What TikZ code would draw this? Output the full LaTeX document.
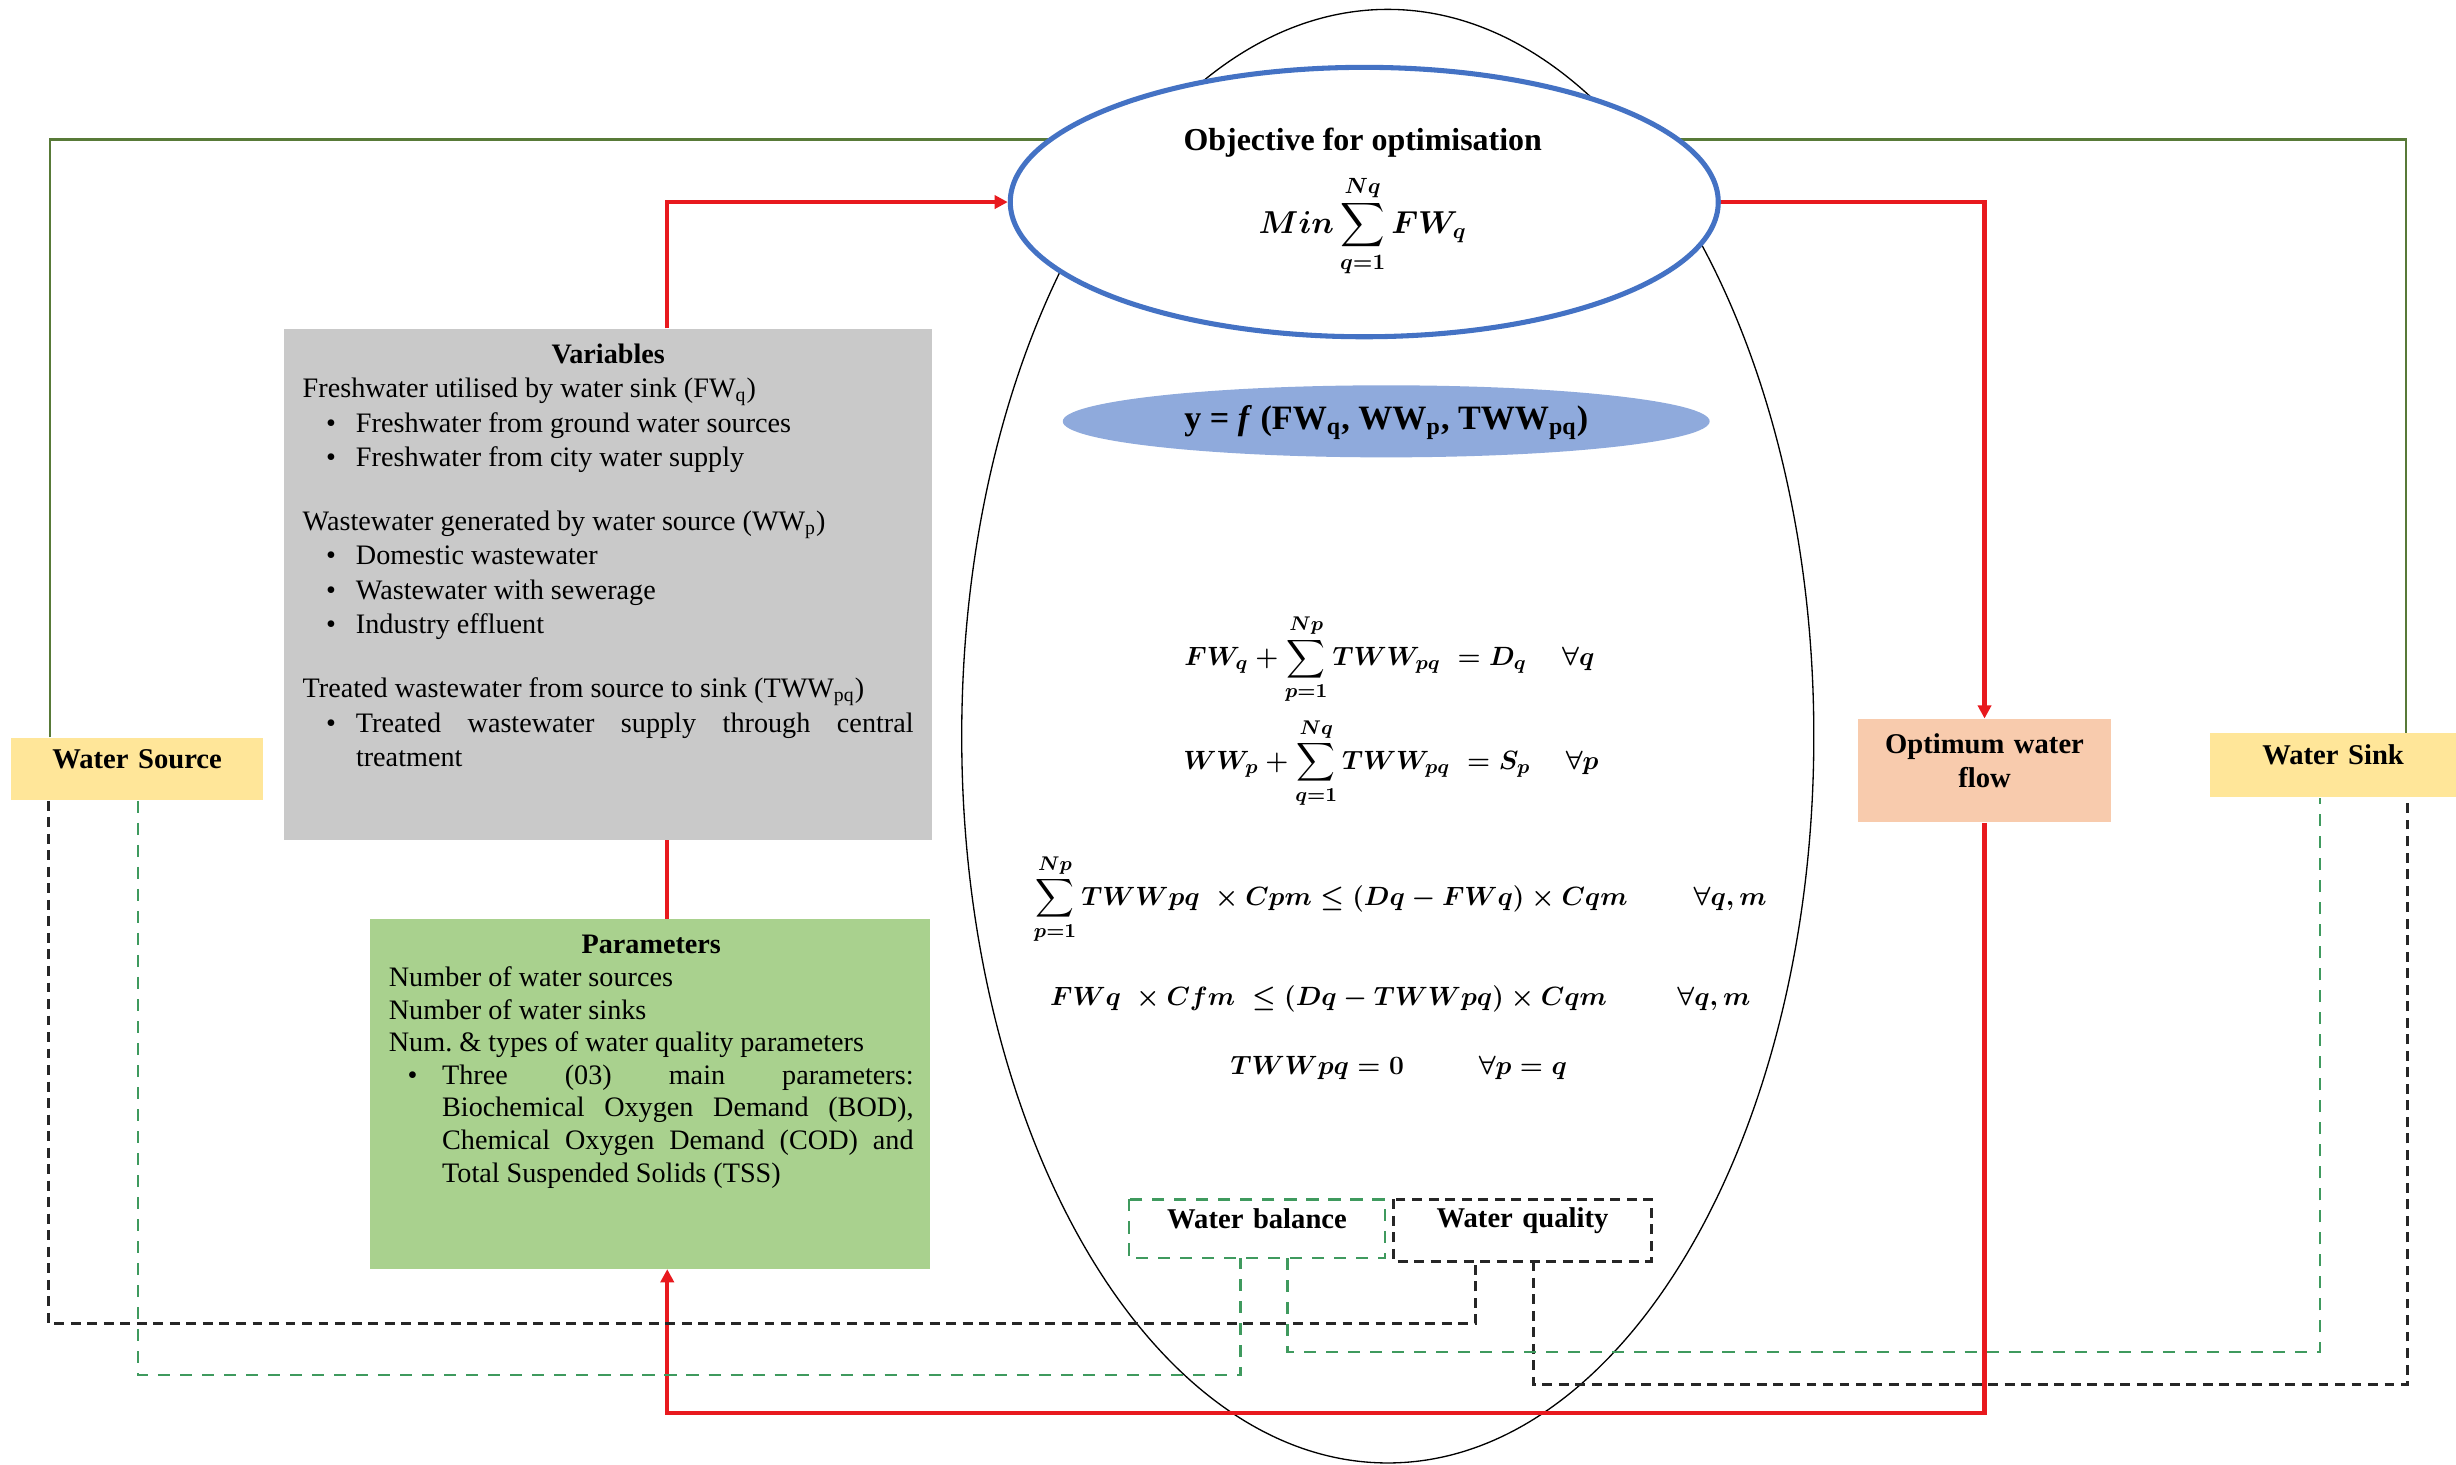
\documentclass[tikz,border=0pt]{standalone}
\usepackage{amsmath,amssymb}
\usepackage{fontspec}
\setmainfont{Liberation Serif}
\usetikzlibrary{arrows.meta,calc,shapes.geometric,fit}

\definecolor{srcyellow}{HTML}{FFE699}
\definecolor{optorange}{HTML}{F8CBAD}
\definecolor{vargrey}{HTML}{C9C9C9}
\definecolor{pargreen}{HTML}{A9D18E}
\definecolor{objblue}{HTML}{4472C4}
\definecolor{fnblue}{HTML}{8FAADC}
\definecolor{linkgreen}{HTML}{587A38}
\definecolor{dashgreen}{HTML}{3F9A5E}
\definecolor{flowred}{HTML}{E8191E}

\pgfdeclarelayer{back}
\pgfdeclarelayer{wires}
\pgfsetlayers{back,wires,main}

\newcommand{\vitem}[1]{\noindent\hspace*{3.75mm}\makebox[4.75mm][l]{\textbullet}\parbox[t]{89mm}{\rightskip=0pt\parfillskip=0pt plus 1fil #1}\par}
\newcommand{\eqfont}{\fontsize{12.2}{15}\selectfont\boldmath}

\begin{document}
\begin{tikzpicture}[x=0.25mm, y=-0.25mm,
  box/.style={inner sep=0pt, draw=none},
  tag/.style={font=\fontsize{13}{15.5}\selectfont\bfseries, align=center},
  body/.style={anchor=base west, inner sep=0pt, align=justify, font=\fontsize{12.8}{15.6}\selectfont},
  eqn/.style={anchor=base, inner sep=0pt, font=\eqfont},
  flow/.style={draw=flowred, line width=2pt},
  flowtip/.style={flow, -{Triangle[length=6pt,width=6pt]}},
  link/.style={draw=linkgreen, line width=1.1pt},
  bdash/.style={draw=black!85, line width=1.4pt, dash pattern=on 4.5pt off 3pt},
  gdash/.style={draw=dashgreen, line width=1.1pt, dash pattern=on 5.5pt off 4.5pt}
]
\useasboundingbox (0,0) rectangle (1568,935);

% ---------- background and model region ----------
\begin{pgfonlayer}{back}
  \fill[white] (0,0) rectangle (1568,935);
  \node[ellipse, draw, line width=0.6pt, minimum width=136mm, minimum height=232mm, inner sep=0pt] (region) at (886,470) {};
\end{pgfonlayer}

% ---------- objective and function ----------
\node[ellipse, draw=objblue, fill=white, line width=2.3pt, minimum width=113mm, minimum height=43mm, inner sep=0pt] (obj) at (871,129) {};
\node[font=\fontsize{14.5}{17}\selectfont\bfseries, inner sep=0pt] (objtitle) at (870,91) {Objective for optimisation};
\node[eqn, font=\fontsize{14}{17}\selectfont\boldmath] (objmin) at (870,149) {$\displaystyle Min\sum_{q=1}^{Nq} FW_q$};

\node[ellipse, fill=fnblue, minimum width=103.25mm, minimum height=11.5mm, inner sep=0pt] (fn) at (885,269) {};
\node[font=\fontsize{15.5}{17}\selectfont\bfseries, inner sep=0pt] (fntext) at (885,270)
  {y = \textit{f} (FW\textsubscript{q}, WW\textsubscript{p}, TWW\textsubscript{pq})};

% ---------- constraints ----------
\node[eqn] (balq) at (887,425) {$\displaystyle FW_q+\sum_{p=1}^{Np} TWW_{pq}\;= D_q\quad\;\forall q$};
\node[eqn] (balp) at (888,491) {$\displaystyle WW_p+\sum_{q=1}^{Nq} TWW_{pq}\;= S_p\quad\;\forall p$};
\node[eqn] (qualq) at (894,578) {$\displaystyle \sum_{p=1}^{Np} TWWpq\;\times Cpm\le(Dq-FWq)\times Cqm\hspace{30pt}\forall q,m$};
\node[eqn] (qualf) at (894,642) {$FWq\;\times Cfm\;\le(Dq-TWWpq)\times Cqm\hspace{32pt}\forall q,m$};
\node[eqn] (self) at (893,686) {$TWWpq=0\hspace{34pt}\forall p=q$};

\node[fit={(721,766) (884,803)}, box, tag] (wbal) {Water balance};
\node[fit={(890,766) (1054,805)}, box, tag] (wqual) {Water quality};

% ---------- side boxes ----------
\node[fit={(7,471) (168,511)}, box, fill=srcyellow, tag] (src) {Water Source};
\node[fit={(1411,468) (1568,509)}, box, fill=srcyellow, tag] (sink) {Water Sink};
\node[fit={(1186,459) (1348,525)}, box, fill=optorange, tag] (opt) {Optimum water\\flow};

\node[fit={(181,210) (595,536)}, box, fill=vargrey] (vars) {};
\node[body, text width=97.5mm] (varstext) at (193,232) {%
\makebox[\linewidth]{\textbf{Variables}}\par
Freshwater utilised by water sink (FW\textsubscript{q})\par
\vitem{Freshwater from ground water sources}
\vitem{Freshwater from city water supply}
\vspace{13.5pt}
Wastewater generated by water source (WW\textsubscript{p})\par
\vitem{Domestic wastewater}
\vitem{Wastewater with sewerage}
\vitem{Industry effluent}
\vspace{13.5pt}
Treated wastewater from source to sink (TWW\textsubscript{pq})\par
\vitem{Treated wastewater supply through central\linebreak treatment}
};

\node[fit={(236,587) (594,810)}, box, fill=pargreen] (params) {};
\node[body, text width=83.75mm, font=\fontsize{12.8}{14.8}\selectfont] (paramstext) at (248,609) {%
\makebox[\linewidth]{\textbf{Parameters}}\par
Number of water sources\par
Number of water sinks\par
Num.\ \& types of water quality parameters\par
\noindent\hspace*{3mm}\makebox[5.5mm][l]{\textbullet}\parbox[t]{75.25mm}{\rightskip=0pt\parfillskip=0pt plus 1fil\emergencystretch=2em Three (03) main parameters:\linebreak Biochemical Oxygen Demand (BOD),\linebreak Chemical Oxygen Demand (COD) and\linebreak Total Suspended Solids (TSS)}\par
};

% ---------- connectors ----------
\coordinate (gl) at (32,89);
\coordinate (gr) at (1536,89);
\coordinate (rx) at (426,124);
\coordinate (rb) at (1270,902);
\coordinate (b1) at (31,845);
\coordinate (bq1) at (942,845);
\coordinate (bq2) at (979,884);
\coordinate (bs) at (1537,884);
\coordinate (g1) at (88,878);
\coordinate (gb1) at (792,878);
\coordinate (gb2) at (822,863);
\coordinate (gs) at (1481,863);

\begin{pgfonlayer}{wires}
  % links from source and sink to the objective
  \draw[link] (src.north -| gl) -- (gl) -- (gr) -- (sink.north -| gr);
  % optimisation loop
  \draw[flow] (params.north -| rx) -- (vars.south -| rx);
  \draw[flowtip] (vars.north -| rx) |- (obj.west);
  \draw[flowtip] (obj.east) -| (opt.north);
  \draw[flowtip] (opt.south) |- (rx |- rb) -- (params.south -| rx);
  % water quality links
  \draw[bdash] (src.south -| b1) -- (b1) -- (bq1) -- (wqual.south -| bq1);
  \draw[bdash] (wqual.south -| bq2) -- (bq2) -- (bs) -- (sink.south -| bs);
  % water balance links
  \draw[gdash] (src.south -| g1) -- (g1) -- (gb1) -- (wbal.south -| gb1);
  \draw[gdash] (wbal.south -| gb2) -- (gb2) -- (gs) -- (sink.south -| gs);
\end{pgfonlayer}

% dashed frames of the two constraint groups
\draw[gdash] (wbal.north west) rectangle (wbal.south east);
\draw[bdash] (wqual.north west) rectangle (wqual.south east);

\end{tikzpicture}
\end{document}
